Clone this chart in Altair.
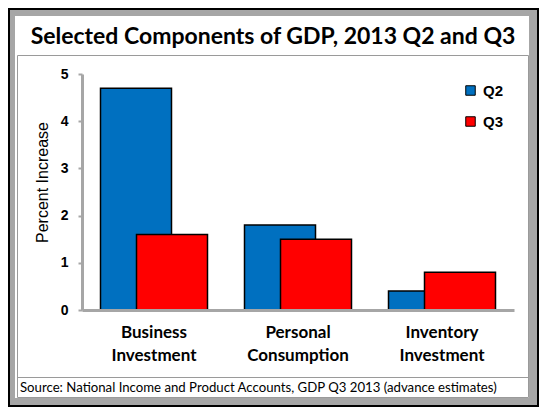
import altair as alt
import pandas as pd

categories = ["Business Investment", "Personal Consumption", "Inventory Investment"]
q2_values = [4.7, 1.8, 0.4]
q3_values = [1.6, 1.5, 0.8]
quarters = ["Q2", "Q3"]
colors = ["#0070C0", "#FF0000"]
y_ticks = [0, 1, 2, 3, 4, 5]
title_text = "Selected Components of GDP, 2013 Q2 and Q3"
source_text = "Source: National Income and Product Accounts, GDP Q3 2013 (advance estimates)"

rows = []
for c, v in zip(categories, q2_values):
    rows.append({"category": c, "quarter": "Q2", "value": v})
for c, v in zip(categories, q3_values):
    rows.append({"category": c, "quarter": "Q3", "value": v})
df = pd.DataFrame(rows)

W, H = 432, 236
L, T, R, B = 74, 66, 25, 97

one = alt.Data(values=[{"k": 1}])

x_enc = alt.X(
    "category:N",
    sort=categories,
    scale=alt.Scale(paddingInner=0, paddingOuter=0),
    axis=alt.Axis(
        title=None,
        labelExpr="split(datum.label, ' ')",
        labelAngle=0,
        labelFont="Lato",
        labelFontWeight="bold",
        labelFontSize=17,
        labelColor="black",
        labelLineHeight=23,
        labelPadding=14,
        ticks=False,
        domainColor="#A6A6A6",
        domainWidth=3,
        zindex=2,
    ),
)
y_enc = alt.Y(
    "value:Q",
    scale=alt.Scale(domain=[0, 5], nice=False),
    axis=alt.Axis(
        title="Percent Increase",
        titleFont="Liberation Sans",
        titleFontSize=16,
        titleFontWeight="normal",
        titleColor="black",
        titleX=-40,
        titleY=108,
        titleAngle=-90,
        titleAlign="center",
        titleBaseline="middle",
        values=y_ticks,
        labelFont="Liberation Sans",
        labelFontWeight="bold",
        labelFontSize=14,
        labelColor="black",
        labelPadding=10,
        tickSize=4,
        tickColor="#A6A6A6",
        tickWidth=2,
        domainColor="#A6A6A6",
        domainWidth=3,
        grid=False,
        zindex=2,
    ),
)
color_enc = alt.Color(
    "quarter:N",
    scale=alt.Scale(domain=quarters, range=colors),
    legend=alt.Legend(
        title=None,
        orient="none",
        legendX=381,
        legendY=9,
        symbolType="square",
        symbolSize=90,
        symbolStrokeColor="black",
        symbolStrokeWidth=1,
        labelFont="Liberation Sans",
        labelFontWeight="bold",
        labelFontSize=15,
        labelColor="black",
        labelOffset=5,
        rowPadding=15,
        padding=0,
    ),
)

outer = alt.Chart(one).mark_rect(fill="#A6A6A6").encode(
    x=alt.value(-72), x2=alt.value(455), y=alt.value(-64), y2=alt.value(331)
)
inner = alt.Chart(one).mark_rect(fill="white").encode(
    x=alt.value(-67), x2=alt.value(447), y=alt.value(-58), y2=alt.value(324)
)
box = alt.Chart(one).mark_rect(fill="white", stroke="#9A9A9A", strokeWidth=1).encode(
    x=alt.value(-64.5), x2=alt.value(446.5), y=alt.value(-18.5), y2=alt.value(323.5)
)
sep = alt.Chart(one).mark_rule(color="#9A9A9A", strokeWidth=1).encode(
    x=alt.value(-64.5), x2=alt.value(446.5), y=alt.value(303.5)
)
source = alt.Chart(one).mark_text(
    text=source_text, font="Lato", fontSize=13.2, color="black", align="left", baseline="alphabetic"
).encode(x=alt.value(-62), y=alt.value(318))

bars_q2 = alt.Chart(df).transform_filter(alt.datum.quarter == "Q2").mark_bar(
    width=71, xOffset=-18, stroke="black", strokeWidth=1.5
).encode(x=x_enc, y=y_enc, color=color_enc)
bars_q3 = alt.Chart(df).transform_filter(alt.datum.quarter == "Q3").mark_bar(
    width=71, xOffset=18, stroke="black", strokeWidth=1.5
).encode(x=x_enc, y=y_enc, color=color_enc)

chart = alt.layer(outer, inner, box, sep, source, bars_q2, bars_q3).properties(
    width=W,
    height=H,
    padding={"left": L, "top": T, "right": R, "bottom": B},
    autosize=alt.AutoSizeParams(type="none"),
    background="black",
    title=alt.TitleParams(
        text=title_text,
        font="Lato",
        fontSize=23,
        fontWeight="bold",
        color="black",
        anchor="middle",
        dx=-25,
        dy=71,
        offset=14,
        baseline="alphabetic",
    ),
).configure_view(stroke=None)

chart.save("out.html", embed_options={"renderer": "svg", "actions": False})
